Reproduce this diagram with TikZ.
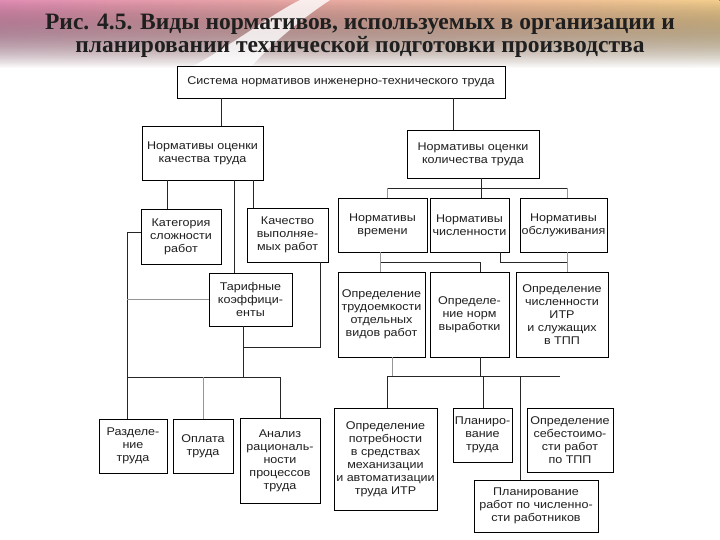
\documentclass[tikz,border=0pt]{standalone}
\usepackage{fontspec}
\setmainfont{Liberation Serif}
\setsansfont{Liberation Sans}
\newfontfamily\boxfont[FakeStretch=1.12]{Liberation Sans}
\usetikzlibrary{positioning, fadings, calc}

\definecolor{bandpink}{RGB}{226,142,180}
\definecolor{bandgold}{RGB}{243,206,142}
\definecolor{faintline}{RGB}{150,150,150}

\tikzset{
  unit/.style={
    rectangle, draw=black, line width=0.9pt, fill=white,
    font=\boxfont\fontsize{11.2}{13}\selectfont, text=black!88,
    inner sep=1pt, align=center
  },
  link/.style={line width=0.9pt, draw=black!85},
  faintlink/.style={line width=0.6pt, draw=faintline},
  heading/.style={font=\bfseries\fontsize{23.5}{23}\selectfont, text=black!88, align=center},
}

\begin{document}
\begin{tikzpicture}[x=1pt, y=-1pt]
  \useasboundingbox (0,0) rectangle (720,540);

  % title band
  \fill[left color=bandpink, right color=bandgold, path fading=south] (0,0) rectangle (720,68);
  \fill[white, opacity=0.8] (190,68) .. controls (240,40) and (270,15) .. (300,0)
    -- (330,0) .. controls (300,20) and (270,45) .. (250,68) -- cycle;
  \node[heading] (title) at (360,35.5) {Рис. 4.5. Виды нормативов, используемых в организации и\\планировании технической подготовки производства};

  % top level
  \node[unit, minimum width=328pt, minimum height=32pt] (sys) at (341,82) {Система нормативов инженерно-технического труда};
  \node[unit, minimum width=121pt, minimum height=54pt] (qual) at (202.5,153) {Нормативы оценки\\качества труда};
  \node[unit, minimum width=132pt, minimum height=48pt] (quant) at (473,154) {Нормативы оценки\\количества труда};

  % quality branch
  \node[unit, minimum width=80pt, minimum height=55pt] (cat) at (181,236.5) {Категория\\сложности\\работ};
  \node[unit, minimum width=81pt, minimum height=54pt] (kach) at (287.5,235) {Качество\\выполняе-\\мых работ};
  \node[unit, minimum width=83pt, minimum height=53pt] (tarif) at (250.5,299.5) {Тарифные\\коэффици-\\енты};

  % quantity branch
  \node[unit, minimum width=89pt, minimum height=54pt] (ntime) at (382.5,225) {Нормативы\\времени};
  \node[unit, minimum width=79pt, minimum height=54pt] (nchisl) at (469.5,225) {Нормативы\\численности};
  \node[unit, minimum width=87pt, minimum height=54pt] (nobsl) at (563.5,225) {Нормативы\\обслуживания};
  \node[unit, minimum width=87pt, minimum height=85pt] (otrud) at (381.5,314.5) {Определение\\трудоемкости\\отдельных\\видов работ};
  \node[unit, minimum width=79pt, minimum height=85pt] (onorm) at (469.5,314.5) {Определе-\\ние норм\\выработки};
  \node[unit, minimum width=92pt, minimum height=85pt] (ochisl) at (562,314.5) {Определение\\численности\\ИТР\\и служащих\\в ТПП};

  % bottom row
  \node[unit, minimum width=68pt, minimum height=54pt] (razd) at (133,446) {Разделе-\\ние\\труда};
  \node[unit, minimum width=60pt, minimum height=54pt] (opl) at (203,446) {Оплата\\труда};
  \node[unit, minimum width=80pt, minimum height=85pt] (anal) at (280,460.5) {Анализ\\рациональ-\\ности\\процессов\\труда};
  \node[unit, minimum width=103pt, minimum height=102pt] (opotr) at (385.5,459) {Определение\\потребности\\в средствах\\механизации\\и автоматизации\\труда ИТР};
  \node[unit, minimum width=59pt, minimum height=54pt] (plantr) at (482.5,435) {Планиро-\\вание\\труда};
  \node[unit, minimum width=86pt, minimum height=64pt] (oseb) at (570,440) {Определение\\себестоимо-\\сти работ\\по ТПП};
  \node[unit, minimum width=124pt, minimum height=52pt] (planrab) at (536,506) {Планирование\\работ по численно-\\сти работников};

  % junctions
  \coordinate (lbend) at (127,377);
  \coordinate (kbend) at (243,347);
  \coordinate (rbusA) at (387,188);
  \coordinate (rbusB) at (567,188);
  \coordinate (rbusC) at (380,262);
  \coordinate (rbusD) at (480,262);
  \coordinate (rbusE) at (387,376);
  \coordinate (rbusF) at (560,376);

  % quality branch links
  \draw[link] (sys.south -| 221,0) -- (qual.north -| 221,0);
  \draw[link] (qual.south -| 167,0) -- (cat.north -| 167,0);
  \draw[link] (qual.south -| 234,0) -- (tarif.north -| 234,0);
  \draw[link] (qual.south -| 253,0) -- (kach.north -| 253,0);
  \draw[link] (cat.west |- 0,232) -| (razd.north -| lbend);
  \draw[faintlink] (tarif.west) -- (tarif.west -| lbend);
  \draw[link] (kach.south -| 320,0) |- (kbend);
  \draw[link] (tarif.south -| kbend) -- (kbend |- lbend);
  \draw[link] (lbend) -| (anal.north -| 280,0);
  \draw[faintlink] (opl.north) -- (opl.north |- lbend);

  % quantity branch links
  \draw[link] (sys.south -| 453,0) -- (quant.north -| 453,0);
  \draw[link] (quant.south -| 481,0) -- (nchisl.north -| 481,0);
  \draw[link] (rbusA) -- (rbusB);
  \draw[faintlink] (rbusA) -- (ntime.north -| rbusA);
  \draw[faintlink] (rbusB) -- (nobsl.north -| rbusB);
  \draw[link] (rbusC) -- (rbusD) -- (onorm.north -| rbusD);
  \draw[faintlink] (ntime.south -| rbusC) -- (otrud.north -| rbusC);
  \draw[link] (nchisl.south -| 500,0) |- (rbusC -| rbusB);
  \draw[faintlink] (nobsl.south -| rbusB) -- (ochisl.north -| rbusB);
  \draw[faintlink] (otrud.south -| 392,0) -- (392,376);
  \draw[link] (onorm.south -| rbusD) -- (rbusD |- rbusE);
  \draw[link] (rbusE) -- (rbusF);
  \draw[link] (rbusE) -- (opotr.north -| rbusE);
  \draw[link] (plantr.north -| 483,0) -- (483,376);
  \draw[link] (planrab.north -| 520,0) -- (520,376);
\end{tikzpicture}
\end{document}
